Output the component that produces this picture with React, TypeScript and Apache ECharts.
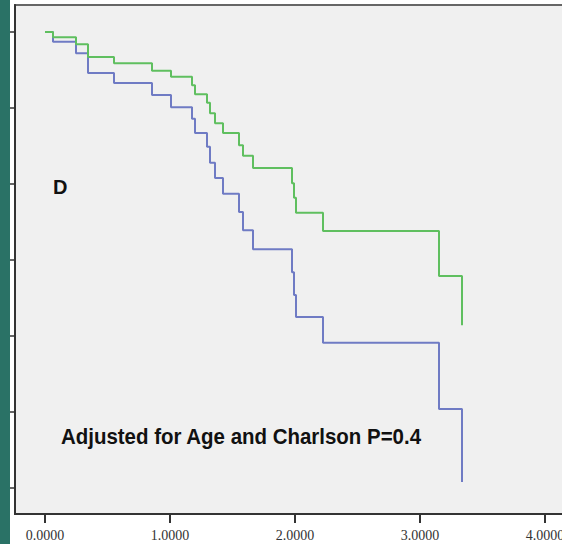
import React, { useEffect, useRef } from "react";
import * as echarts from "echarts";

// Shared event times (years)
const times = [0, 0.064, 0.248, 0.344, 0.552, 0.856, 1.008, 1.176, 1.2, 1.296, 1.32, 1.36, 1.424, 1.552, 1.584, 1.664, 1.976, 1.992, 2.008, 2.224, 3.152, 3.336];
const greenSurvival = [1.0, 0.993, 0.984, 0.967, 0.959, 0.949, 0.941, 0.93, 0.918, 0.907, 0.893, 0.88, 0.867, 0.851, 0.837, 0.821, 0.801, 0.782, 0.762, 0.738, 0.679, 0.614];
const blueSurvival = [1.0, 0.987, 0.972, 0.946, 0.933, 0.917, 0.901, 0.886, 0.867, 0.849, 0.828, 0.808, 0.787, 0.763, 0.739, 0.714, 0.684, 0.654, 0.625, 0.591, 0.504, 0.408];
const xTicks = [0, 1, 2, 3, 4];
const yTicks = [0.4, 0.5, 0.6, 0.7, 0.8, 0.9, 1.0];
const panelLabel = "D";
const annotation = "Adjusted for Age and Charlson P=0.4";

export default function App() {
  const ref = useRef<HTMLDivElement>(null);
  useEffect(() => {
    if (!ref.current) return;
    const chart = echarts.init(ref.current, undefined, { renderer: "svg" });
    const toPairs = (ys: number[]) => times.map((t, i) => [t, ys[i]]);
    chart.setOption({
      animation: false,
      backgroundColor: "#ffffff",
      grid: {
        left: 15,
        top: 5,
        right: 8,
        bottom: 30,
        show: true,
        backgroundColor: "#f0f0f0",
        borderColor: "#666",
        borderWidth: 2,
      },
      xAxis: {
        type: "value",
        min: -0.24,
        max: 4.376,
        splitLine: { show: false },
        axisLine: { show: true, onZero: false, lineStyle: { color: "#333", width: 2 } },
        axisTick: { show: true, customValues: xTicks, length: 9, lineStyle: { color: "#333", width: 2 } },
        axisLabel: {
          show: true,
          customValues: xTicks,
          formatter: (v: number) => v.toFixed(4),
          fontFamily: "Liberation Serif",
          fontSize: 14,
          color: "#333",
          margin: 14,
        },
      },
      yAxis: {
        type: "value",
        min: 0.3658,
        max: 1.0355,
        splitLine: { show: false },
        axisLine: { show: true, onZero: false, lineStyle: { color: "#333", width: 2 } },
        axisTick: { show: true, customValues: yTicks, length: 5, lineStyle: { color: "#333", width: 1.5 } },
        axisLabel: { show: false },
      },
      series: [
        {
          type: "line",
          step: "end",
          showSymbol: false,
          data: toPairs(blueSurvival),
          lineStyle: { color: "#6f7bc4", width: 2 },
          itemStyle: { color: "#6f7bc4" },
        },
        {
          type: "line",
          step: "end",
          showSymbol: false,
          data: toPairs(greenSurvival),
          lineStyle: { color: "#5fbf5f", width: 2 },
          itemStyle: { color: "#5fbf5f" },
        },
      ],
      graphic: [
        { type: "rect", shape: { x: 0, y: 0, width: 10, height: 544 }, style: { fill: "#2a7266" }, z: 100 },
        {
          type: "text",
          x: 53,
          y: 187,
          style: { text: panelLabel, font: "bold 20px 'Liberation Sans'", fill: "#111", verticalAlign: "middle", align: "left" },
          z: 100,
        },
        {
          type: "text",
          x: 61,
          y: 437,
          scaleX: 0.93,
          style: { text: annotation, font: "bold 22px 'Liberation Sans'", fill: "#111", verticalAlign: "middle", align: "left" },
          z: 100,
        },
      ],
    });
    return () => chart.dispose();
  }, []);
  return (
    <div style={{ position: "fixed", left: 0, top: 0, width: 562, height: 544, overflow: "hidden" }}>
      <div ref={ref} style={{ width: 600, height: 544 }} />
    </div>
  );
}
